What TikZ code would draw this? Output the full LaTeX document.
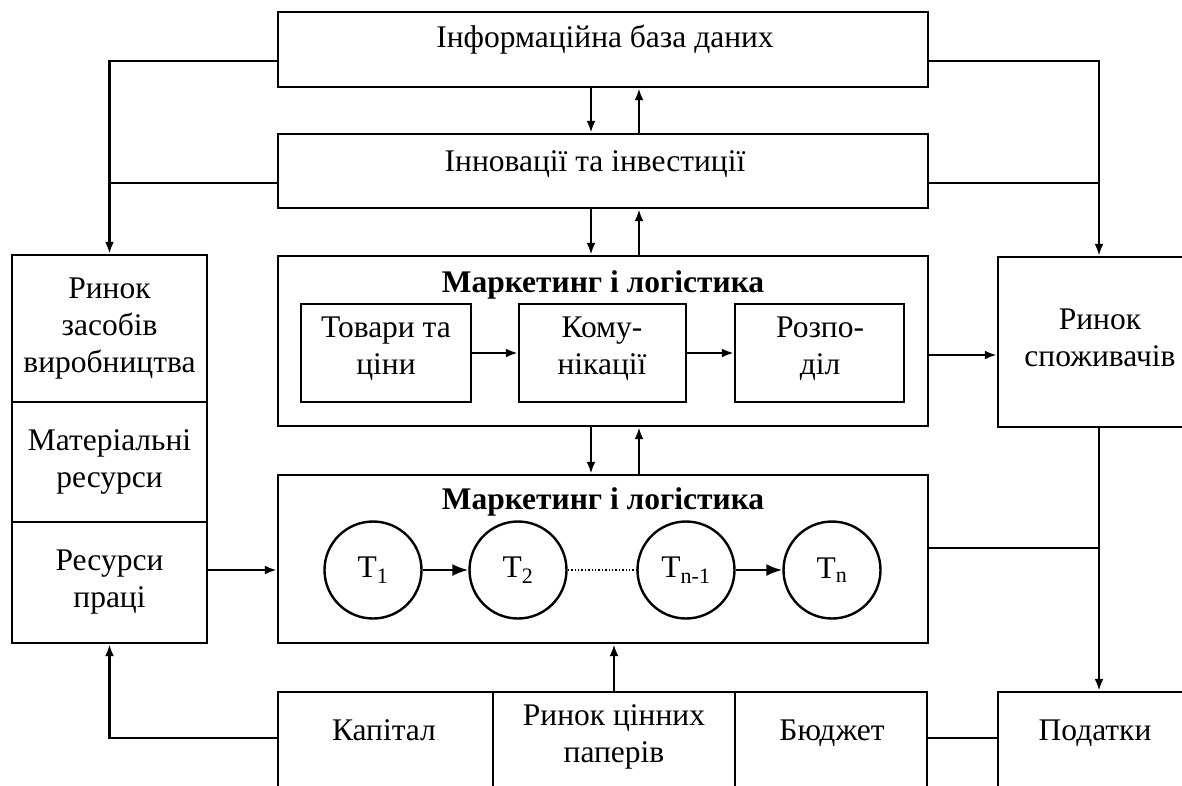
\documentclass[tikz,border=0pt]{standalone}
\usepackage{fontspec}
\setmainfont{Liberation Serif}
\usetikzlibrary{arrows.meta}
\tikzset{
  bx/.style={draw, line width=2.4pt, inner sep=0pt},
  txt/.style={font=\fontsize{31.5}{37}\selectfont, align=center, inner sep=0pt},
  ttl/.style={font=\fontsize{31.5}{37}\selectfont\bfseries, inner sep=0pt},
  ln/.style={line width=2.4pt},
  arr/.style={line width=2.4pt, -{Latex[length=12pt,width=9pt]}},
  bigarr/.style={line width=2.4pt, -{Latex[length=16pt,width=12pt]}},
  circ/.style={draw, circle, line width=2.4pt, minimum size=97pt, inner sep=0pt, font=\fontsize{31.5}{37}\selectfont},
}
\begin{document}
\begin{tikzpicture}[x=1pt,y=-1pt]
\useasboundingbox (0,0) rectangle (1182,785);
\clip (0,0) rectangle (1182,785);
\fill[white] (0,0) rectangle (1182,785);
% boxes
\node[bx, minimum width=650pt, minimum height=75pt] (info) at (603,49.5) {};
\node[bx, minimum width=650pt, minimum height=74pt] (innov) at (603,171) {};
\node[bx, minimum width=650pt, minimum height=170pt] (mk1) at (603,341) {};
\node[bx, minimum width=650pt, minimum height=168pt] (mk2) at (603,559) {};
\node[bx, minimum width=170pt, minimum height=98pt] (tov) at (386,353) {};
\node[bx, minimum width=167pt, minimum height=98pt] (kom) at (602.5,353) {};
\node[bx, minimum width=169pt, minimum height=98pt] (roz) at (819.5,353) {};
\node[bx, txt, minimum width=195pt, minimum height=147pt] (rzv) at (109.5,328.5) {Ринок\\засобів\\виробництва};
\node[bx, txt, minimum width=195pt, minimum height=120pt] (mat) at (109.5,462) {Матеріальні\\ресурси};
\node[bx, txt, minimum width=195pt, minimum height=121pt] (rp) at (109.5,582.5) {Ресурси\\праці};
\node[bx, minimum width=202pt, minimum height=170pt] (rsp) at (1099,342) {};
\node[bx, minimum width=202pt, minimum height=108pt] (pod) at (1099,746) {};
\node[bx, minimum width=215pt, minimum height=108pt] (kap) at (385.5,746) {};
\node[bx, minimum width=242pt, minimum height=108pt] (rcp) at (614,746) {};
\node[bx, minimum width=192pt, minimum height=108pt] (bud) at (831,746) {};
% circles
\node[circ] (t1) at (373,570) {T\textsubscript{1}};
\node[circ] (t2) at (518,570) {T\textsubscript{2}};
\node[circ] (tn1) at (686,570) {T\textsubscript{n-1}};
\node[circ] (tn) at (832,570) {T\textsubscript{n}};
% texts
\node[txt, anchor=base] (tinfo) at (605,47) {Інформаційна база даних};
\node[txt, anchor=base] (tinnov) at (595,171) {Інновації та інвестиції};
\node[ttl, anchor=base] (tmk1) at (603,292) {Маркетинг і логістика};
\node[ttl, anchor=base] (tmk2) at (603,509) {Маркетинг і логістика};
\node[txt] (ttov) at (386,349) {Товари та\\ціни};
\node[txt] (tkom) at (602,349) {Кому-\\нікації};
\node[txt] (troz) at (820,349) {Розпо-\\діл};
\node[txt] (trsp) at (1100,338) {Ринок\\споживачів};
\node[txt, anchor=base] (tkap) at (384,740) {Капітал};
\node[txt] (trcp) at (614,737) {Ринок цінних\\паперів};
\node[txt, anchor=base] (tbud) at (832,740) {Бюджет};
\node[txt, anchor=base] (tpod) at (1095,740) {Податки};
% helper coordinates
\coordinate (yA) at (0,61);
\coordinate (yB) at (0,183);
\coordinate (yC) at (0,355);
\coordinate (yD) at (0,548);
\coordinate (yE) at (0,570);
\coordinate (yF) at (0,738);
\coordinate (xD) at (591,0);
\coordinate (xU) at (639,0);
% connectors
\draw[arr] (info.west |- yA) -| (rzv.north);
\draw[ln] (innov.west |- yB) -- (rzv.north |- yB);
\draw[arr] (info.east |- yA) -| (rsp.north);
\draw[ln] (innov.east |- yB) -- (rsp.north |- yB);
\draw[arr] (info.south -| xD) -- (innov.north -| xD);
\draw[arr] (innov.north -| xU) -- (info.south -| xU);
\draw[arr] (innov.south -| xD) -- (mk1.north -| xD);
\draw[arr] (mk1.north -| xU) -- (innov.south -| xU);
\draw[arr] (mk1.south -| xD) -- (mk2.north -| xD);
\draw[arr] (mk2.north -| xU) -- (mk1.south -| xU);
\draw[arr] (tov.east) -- (kom.west);
\draw[arr] (kom.east) -- (roz.west);
\draw[arr] (mk1.east |- yC) -- (rsp.west |- yC);
\draw[arr] (rsp.south) -- (pod.north);
\draw[ln] (mk2.east |- yD) -- (rsp.south |- yD);
\draw[arr] (rp.east |- yE) -- (mk2.west |- yE);
\draw[bigarr] (t1) -- (t2);
\draw[dotted, line width=1.4pt] (t2) -- (tn1);
\draw[bigarr] (tn1) -- (tn);
\draw[arr] (kap.west |- yF) -| (rp.south);
\draw[arr] (rcp.north) -- (mk2.south -| rcp.north);
\draw[ln] (bud.east |- yF) -- (pod.west |- yF);
\end{tikzpicture}
\end{document}
